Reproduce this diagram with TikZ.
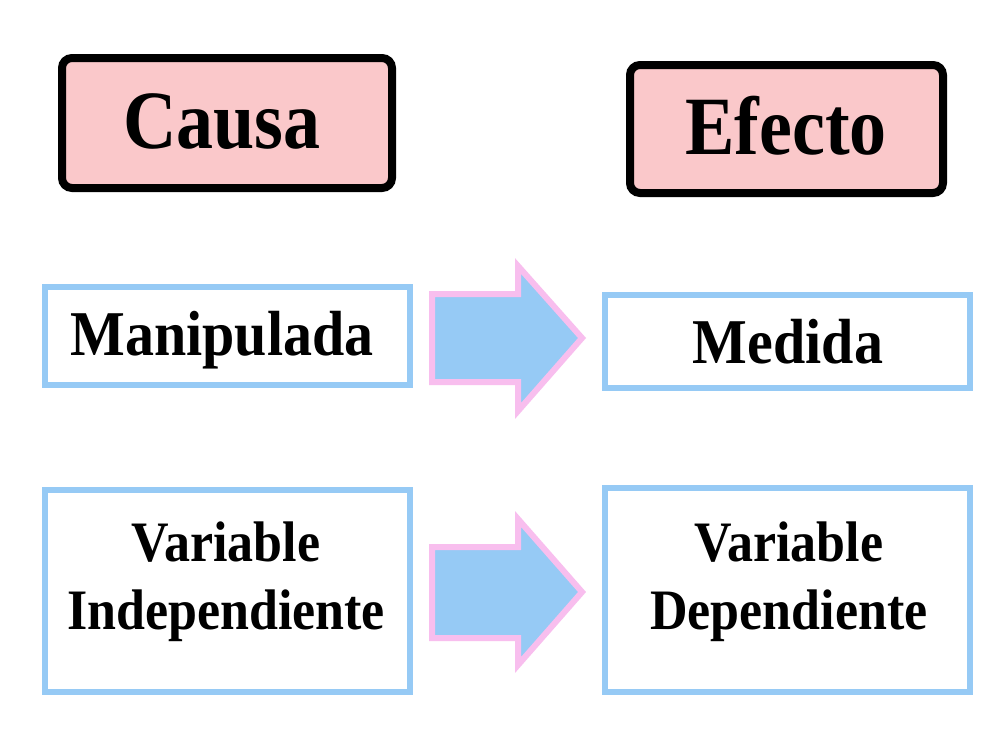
\documentclass[tikz,border=0pt]{standalone}
\usepackage{fontspec}
\setmainfont{Liberation Serif}
\definecolor{pinkfill}{RGB}{250,200,202}
\definecolor{bluebd}{RGB}{150,202,245}
\definecolor{arrowpink}{RGB}{248,190,238}
\begin{document}
\begin{tikzpicture}[x=1pt,y=-1pt,
  head/.style={draw=black,line width=8pt,fill=pinkfill,rounded corners=10pt},
  bbox/.style={draw=bluebd,line width=6pt,fill=white},
  htext/.style={font=\bfseries\fontsize{74}{74}\selectfont,yscale=1.12},
  btext/.style={font=\bfseries\fontsize{58}{58}\selectfont,yscale=1.1},
  ttext/.style={font=\bfseries\fontsize{52}{62}\selectfont,align=center,yscale=1.1},
  arr/.style={fill=bluebd,draw=arrowpink,line width=6pt,line join=miter}]
\useasboundingbox (0,0) rectangle (1000,748);
\fill[white] (0,0) rectangle (1000,748);
\draw[head] (62,58) rectangle (392,188);
\node[htext] (causa) at (222,122) {Causa};
\draw[head] (630,65) rectangle (943,193);
\node[htext] (efecto) at (786,126) {Efecto};
\draw[bbox] (45,287) rectangle (410,385);
\node[btext] (manip) at (222,340) {Manipulada};
\draw[bbox] (605,295) rectangle (970,388);
\node[btext] (medida) at (788,342) {Medida};
\draw[bbox] (45,490) rectangle (410,692);
\node[ttext] (vi) at (226,582) {Variable\\Independiente};
\draw[bbox] (605,488) rectangle (970,692);
\node[ttext] (vd) at (789,582) {Variable\\Dependiente};
\draw[arr] (432,294) -- (518,294) -- (518,266) -- (582,338) -- (518,411) -- (518,382) -- (432,382) -- cycle;
\draw[arr] (432,547) -- (518,547) -- (518,519) -- (582,592) -- (518,665) -- (518,638) -- (432,638) -- cycle;
\end{tikzpicture}
\end{document}
